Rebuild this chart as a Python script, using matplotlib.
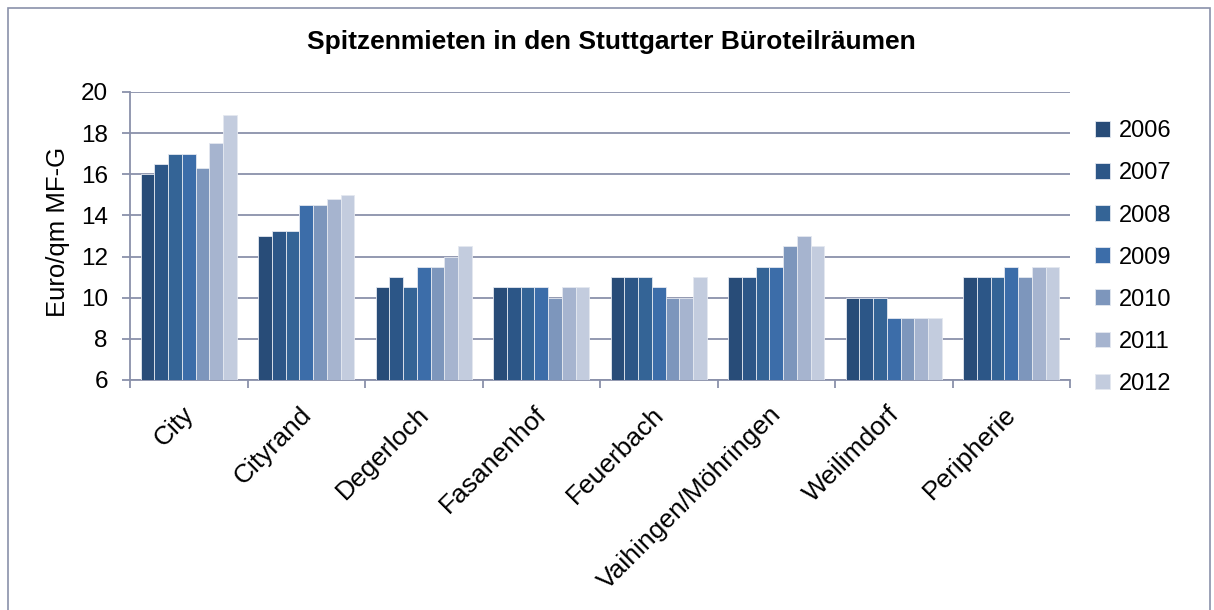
#!/usr/bin/env python3
"""Spitzenmieten in den Stuttgarter Büroteilräumen - grouped bar chart."""

import matplotlib
matplotlib.use("Agg")
import matplotlib.pyplot as plt
import numpy as np
from matplotlib.patches import Rectangle

plt.rcParams["font.family"] = ["Liberation Sans", "DejaVu Sans"]

# Data
districts = ["City", "Cityrand", "Degerloch", "Fasanenhof", "Feuerbach",
             "Vaihingen/Möhringen", "Weilimdorf", "Peripherie"]
years = ["2006", "2007", "2008", "2009", "2010", "2011", "2012"]
rent_2006 = [16.0, 13.0, 10.5, 10.5, 11.0, 11.0, 10.0, 11.0]
rent_2007 = [16.5, 13.25, 11.0, 10.5, 11.0, 11.0, 10.0, 11.0]
rent_2008 = [17.0, 13.25, 10.5, 10.5, 11.0, 11.5, 10.0, 11.0]
rent_2009 = [17.0, 14.5, 11.5, 10.5, 10.5, 11.5, 9.0, 11.5]
rent_2010 = [16.3, 14.5, 11.5, 10.0, 10.0, 12.5, 9.0, 11.0]
rent_2011 = [17.5, 14.8, 12.0, 10.5, 10.0, 13.0, 9.0, 11.5]
rent_2012 = [18.9, 15.0, 12.5, 10.5, 11.0, 12.5, 9.0, 11.5]
series = [rent_2006, rent_2007, rent_2008, rent_2009, rent_2010, rent_2011, rent_2012]
colors = ["#284C78", "#2C5687", "#346496", "#3C6DA9", "#7D96BC", "#A6B4CF", "#C3CCDE"]
axis_color = "#8A91AA"

W, H = 1214, 610
fig = plt.figure(figsize=(W / 100, H / 100), dpi=100)

# outer chart frame
fig.patches.append(Rectangle((8 / W, -0.05), (1210 - 8) / W, 1.05 - 8 / H,
                             transform=fig.transFigure, fill=False,
                             edgecolor=axis_color, linewidth=1.2))

ax = fig.add_axes([130 / W, 1 - 380 / H, (1070 - 130) / W, (380 - 92) / H])

x = np.arange(len(districts))
group_w = 0.82
bar_w = group_w / len(years)
for i, (vals, year) in enumerate(zip(series, years)):
    offs = -group_w / 2 + bar_w * (i + 0.5)
    ax.bar(x + offs, vals, width=bar_w, color=colors[i], label=year,
           edgecolor="#E4E8F0", linewidth=0.6, zorder=3)

ax.set_xlim(-0.5, len(districts) - 0.5)
ax.set_ylim(6, 20)
ax.set_yticks(np.arange(6, 21, 2))
ax.yaxis.grid(True, color=axis_color, linewidth=1.3, zorder=0)
ax.set_axisbelow(True)

for s in ["top", "right"]:
    ax.spines[s].set_visible(False)
for s in ["left", "bottom"]:
    ax.spines[s].set_color(axis_color)
    ax.spines[s].set_linewidth(1.3)

# category ticks at group boundaries, labels centered
ax.set_xticks(np.arange(-0.5, len(districts), 1.0))
ax.set_xticklabels([])
ax.set_xticks(x - 0.06, minor=True)
ax.set_xticklabels(districts, minor=True, rotation=45, ha="right",
                   rotation_mode="anchor", fontsize=19)
ax.tick_params(axis="x", which="minor", length=0, pad=16)
ax.tick_params(axis="x", which="major", length=6, color=axis_color, width=1.3)
ax.tick_params(axis="y", length=6, color=axis_color, width=1.3, labelsize=17.5, pad=10)

ax.set_ylabel("Euro/qm MF-G", fontsize=18.5)
ax.yaxis.set_label_coords(70 / W, 1 - 232 / H, transform=fig.transFigure)

fig.text(611 / W, 1 - 42 / H,
         "Spitzenmieten in den Stuttgarter Büroteilräumen",
         ha="center", va="center", fontsize=19, fontweight="bold")

ax.legend(loc="center left", bbox_to_anchor=(1.004, 0.425), frameon=False,
          fontsize=17, handlelength=0.65, handleheight=0.65, handletextpad=0.35,
          labelspacing=0.85)

fig.savefig("out.png", dpi=100)
